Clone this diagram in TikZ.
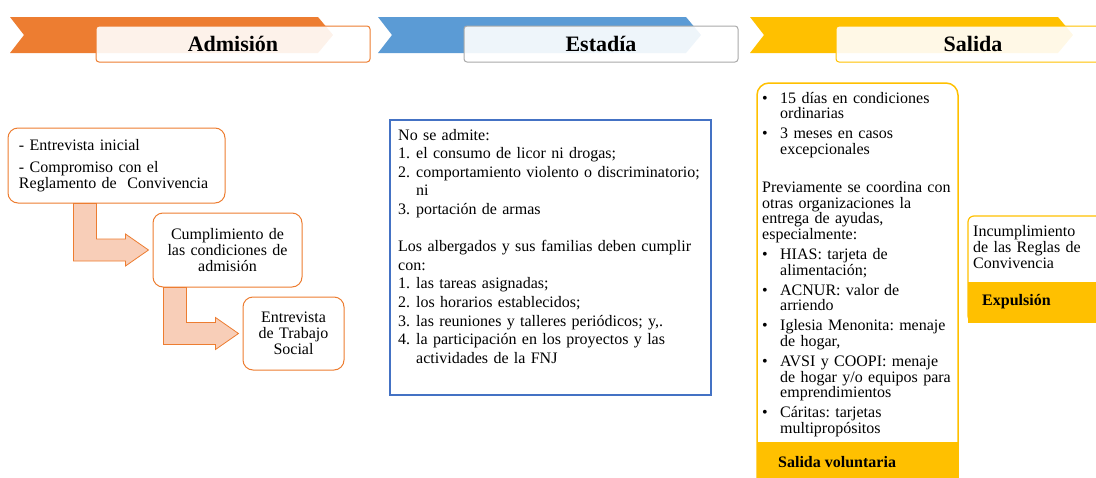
\documentclass[tikz,border=0pt]{standalone}
\usepackage{fontspec}
\setmainfont{Liberation Serif}[BoldFont={Liberation Serif Bold}]
\usetikzlibrary{calc}
\definecolor{naranja}{RGB}{237,125,49}
\definecolor{durazno}{RGB}{248,206,184}
\definecolor{azul}{RGB}{91,155,213}
\definecolor{azulborde}{RGB}{68,114,196}
\definecolor{amarillo}{RGB}{255,192,0}
\definecolor{gris}{RGB}{170,170,170}
\newcommand{\itm}[1]{\makebox[18pt][l]{#1}}
\newcommand{\sang}{\hspace*{18pt}}
\frenchspacing
\tikzset{every node/.style={inner sep=0pt},
  titulo/.style={rounded corners=3pt, line width=1pt, fill=white, fill opacity=0.9, text opacity=1,
    minimum width=274pt, minimum height=36pt, font=\fontsize{22}{26}\selectfont\bfseries},
  caja/.style={draw=naranja, line width=1pt, fill=white, rounded corners=10pt, font=\fontsize{16}{16}\selectfont},
  flecha/.style={draw=naranja, line width=0.8pt, fill=durazno},
  texto/.style={anchor=base west, align=left, font=\fontsize{16}{18.6}\selectfont}}

\begin{document}
\begin{tikzpicture}[x=1pt,y=-1pt]
  \useasboundingbox (0,0) rectangle (1096,477);
  \clip (0,0) rectangle (1096,477);
  % cintas de encabezado
  \foreach \n/\xa/\col/\bor/\tit in {adm/10/naranja/naranja/Admisión, est/378/azul/gris/Estadía, sal/750/amarillo/amarillo/Salida}{
    \fill[\col] (\xa,17) -- ++(308,0) -- ++(15,18) -- ++(-15,18) -- ++(-308,0) -- ++(14,-18) -- cycle;
    \node[titulo, draw=\bor] (t\n) at (\xa+223,44) {\tit};
  }
  % admision
  \node[caja, text width=195pt, inner xsep=11pt, minimum height=75pt, align=left] (ent) at (116.5,165.5)
    {- Entrevista inicial\\[6pt] - Compromiso con el\\ Reglamento de \ Convivencia};
  \node[caja, text width=130pt, inner xsep=9.5pt, minimum height=74pt, align=center] (cum) at (227.5,250)
    {Cumplimiento de\\ las condiciones de\\ admisión};
  \node[caja, text width=85pt, inner xsep=8pt, minimum height=73pt, align=center] (tra) at (293.5,333.5)
    {Entrevista\\ de Trabajo\\ Social};
  \draw[flecha] ($(cum.west)+(-4,0)$) coordinate (p1) -- ++(-23,-16) -- ++(0,5) -- ++(-29,0) coordinate (q1)
    -- (q1 |- ent.south) -- ++(-23,0) coordinate (r1) -- ($(r1 |- p1)+(0,11)$) -- ++(52,0) -- ++(0,5) -- cycle;
  \draw[flecha] ($(tra.west)+(-4,0)$) coordinate (p2) -- ++(-23,-16) -- ++(0,5) -- ++(-29,0) coordinate (q2)
    -- (q2 |- cum.south) -- ++(-23,0) coordinate (r2) -- ($(r2 |- p2)+(0,11)$) -- ++(52,0) -- ++(0,5) -- cycle;
  % estadia
  \node[draw=azulborde, line width=2pt, minimum width=321pt, minimum height=275pt] (reg) at (550.5,257.5) {};
  \node[texto, text width=310pt] (normas) at (398,140) {No se admite:\\
    \itm{1.}el consumo de licor ni drogas;\\
    \itm{2.}comportamiento violento o discriminatorio;\\
    \sang ni\\
    \itm{3.}portación de armas\\[18.6pt]
    Los albergados y sus familias deben cumplir\\
    con:\\
    \itm{1.}las tareas asignadas;\\
    \itm{2.}los horarios establecidos;\\
    \itm{3.}las reuniones y talleres periódicos; y,.\\
    \itm{4.}la participación en los proyectos y las\\
    \sang actividades de la FNJ};
  % salida
  \node[draw=amarillo, line width=1.5pt, rounded corners=12pt, minimum width=201pt, minimum height=440pt] (salbox) at (857.5,303) {};
  \fill[amarillo] (757,442) rectangle (958.8,530);
  \node[texto, text width=200pt, font=\fontsize{16}{15.8}\selectfont] (plazos) at (762,103) {%
    \itm{\textbullet}15 días en condiciones\\
    \sang ordinarias\\[4pt]
    \itm{\textbullet}3 meses en casos\\
    \sang excepcionales\\[22pt]
    Previamente se coordina con\\
    otras organizaciones la\\
    entrega de ayudas,\\
    especialmente:\\[4pt]
    \itm{\textbullet}HIAS: tarjeta de\\
    \sang alimentación;\\[4pt]
    \itm{\textbullet}ACNUR: valor de\\
    \sang arriendo\\[4pt]
    \itm{\textbullet}Iglesia Menonita: menaje\\
    \sang de hogar,\\[4pt]
    \itm{\textbullet}AVSI y COOPI: menaje\\
    \sang de hogar y/o equipos para\\
    \sang emprendimientos\\[4pt]
    \itm{\textbullet}Cáritas: tarjetas\\
    \sang multipropósitos};
  \node[texto, font=\fontsize{16}{16}\selectfont\bfseries] (salvol) at (778,467) {Salida voluntaria};
  % expulsion
  \node[draw=amarillo, line width=1.2pt, rounded corners=6pt, minimum width=152pt, minimum height=106pt] (inc) at (1044,269) {};
  \fill[amarillo] (968,282) rectangle (1120,322.7);
  \node[texto, text width=120pt, font=\fontsize{16}{16}\selectfont] (causa) at (973,236)
    {Incumplimiento\\ de las Reglas de\\ Convivencia};
  \node[texto, font=\fontsize{16}{16}\selectfont\bfseries] (expul) at (982,305) {Expulsión};
\end{tikzpicture}
\end{document}
